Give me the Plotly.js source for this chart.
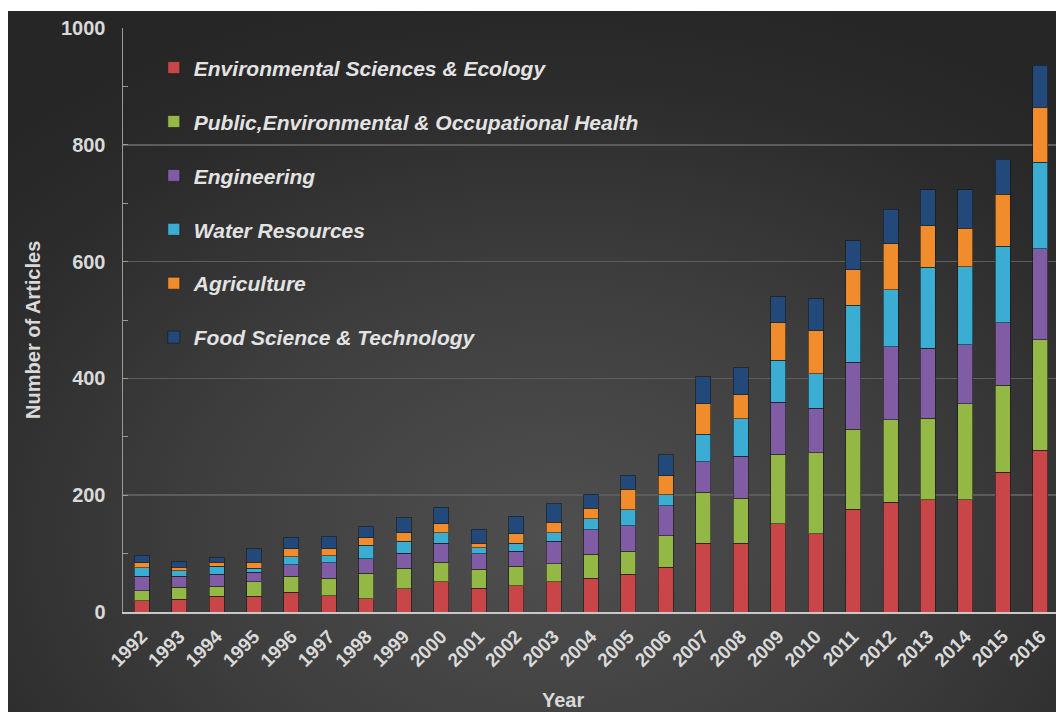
<!DOCTYPE html>
<html>
<head>
<meta charset="utf-8">
<script src="https://cdn.plot.ly/plotly-3.0.1.min.js"></script>
<style>
  html, body { margin: 0; padding: 0; background: #ffffff; width: 1056px; height: 712px; overflow: hidden; }
  #chart {
    position: absolute; left: 8px; top: 11px; width: 1048px; height: 701px;
    background: radial-gradient(ellipse 75% 80% at 52% 75%, #4f4f4f 0%, #3e3e3e 45%, #2c2c2c 80%, #262626 100%);
  }
</style>
</head>
<body>
<div id="chart"></div>
<script>
const years = ["1992","1993","1994","1995","1996","1997","1998","1999","2000","2001","2002","2003","2004","2005","2006","2007","2008","2009","2010","2011","2012","2013","2014","2015","2016"];

const envSciences = [19, 22, 27, 27, 34, 28, 23, 40, 52, 41, 45, 52, 58, 65, 77, 118, 118, 151, 134, 176, 188, 192, 192, 239, 277];
const publicHealth = [17, 20, 17, 25, 27, 30, 43, 35, 33, 32, 33, 31, 41, 39, 54, 87, 77, 119, 139, 137, 141, 140, 165, 149, 189];
const engineering = [25, 19, 21, 16, 20, 26, 25, 26, 33, 27, 26, 38, 42, 44, 51, 52, 72, 89, 76, 115, 125, 120, 101, 107, 156];
const waterResources = [15, 10, 13, 7, 14, 12, 23, 20, 18, 10, 14, 15, 19, 27, 19, 47, 64, 72, 59, 97, 98, 138, 133, 131, 148];
const agriculture = [8, 6, 7, 10, 13, 12, 13, 15, 15, 8, 16, 18, 18, 35, 32, 53, 41, 64, 74, 61, 79, 71, 66, 89, 94];
const foodScience = [13, 10, 8, 23, 20, 22, 19, 25, 28, 24, 30, 31, 24, 24, 36, 46, 46, 45, 54, 50, 59, 62, 66, 60, 72];

const seriesNames = [
  "Environmental Sciences & Ecology",
  "Public,Environmental & Occupational Health",
  "Engineering",
  "Water Resources",
  "Agriculture",
  "Food Science & Technology"
];
const xTitle = "Year";
const yTitle = "Number of Articles";
const seriesValues = [envSciences, publicHealth, engineering, waterResources, agriculture, foodScience];
const seriesColors = ["#c84647", "#93b846", "#7f5ca3", "#3badd2", "#f08c2c", "#23497a"];

const traces = seriesValues.map((vals, i) => ({
  type: "bar",
  name: seriesNames[i],
  x: years,
  y: vals,
  legendgroup: "g" + i,
  marker: { color: seriesColors[i], line: { color: "rgba(20,20,20,0.55)", width: 1 } },
  hoverinfo: "x+y+name"
}));

const FAMILY = "Liberation Sans, Arial, sans-serif";
const tickFont = { family: FAMILY, size: 20, color: "#d9d9d9", weight: "bold" };
const titleFont = { family: FAMILY, size: 20, color: "#d9d9d9", weight: "bold" };

const layout = {
  width: 1048,
  height: 701,
  paper_bgcolor: "rgba(0,0,0,0)",
  plot_bgcolor: "rgba(0,0,0,0)",
  barmode: "stack",
  bargap: 0.6,
  margin: { l: 115, r: 0, t: 17, b: 100 },
  font: { family: FAMILY, color: "#d9d9d9" },
  xaxis: {
    type: "category",
    range: [-0.5, 24.42],
    tickangle: -45,
    tickfont: { family: FAMILY, size: 19, color: "#d9d9d9", weight: "bold" },
    ticklabelstandoff: 4,
    showline: true,
    linecolor: "#c8c8c8",
    linewidth: 2,
    ticks: "",
    showgrid: false
  },
  yaxis: {
    range: [0, 1000],
    dtick: 200,
    tickfont: tickFont,
    showline: true,
    linecolor: "#9a9a9a",
    linewidth: 1.5,
    ticks: "inside",
    ticklen: 5,
    tickcolor: "#9a9a9a",
    ticklabelstandoff: 12,
    showgrid: true,
    gridcolor: "#5c5c5c",
    gridwidth: 1.5,
    zeroline: false,
    minor: { ticks: "inside", dtick: 100, ticklen: 5, tickcolor: "#9a9a9a", showgrid: false }
  },
  annotations: [
    { text: xTitle, xref: "paper", yref: "paper", x: 0.4716, y: -0.1507, xanchor: "center", yanchor: "middle", showarrow: false, font: titleFont },
    { text: yTitle, xref: "paper", yref: "paper", x: -0.0965, y: 0.483, xanchor: "center", yanchor: "middle", textangle: -90, showarrow: false, font: titleFont }
  ],
  legend: {
    x: 0.033,
    y: 0.9667,
    xanchor: "left",
    yanchor: "top",
    bgcolor: "rgba(0,0,0,0)",
    traceorder: "grouped",
    tracegroupgap: 23.6,
    itemwidth: 30,
    font: { family: FAMILY, size: 21, color: "#e3e3e3", weight: "bold", style: "italic" }
  },
  showlegend: true
};

Plotly.newPlot("chart", traces, layout, { displayModeBar: false, staticPlot: true });
</script>
</body>
</html>
